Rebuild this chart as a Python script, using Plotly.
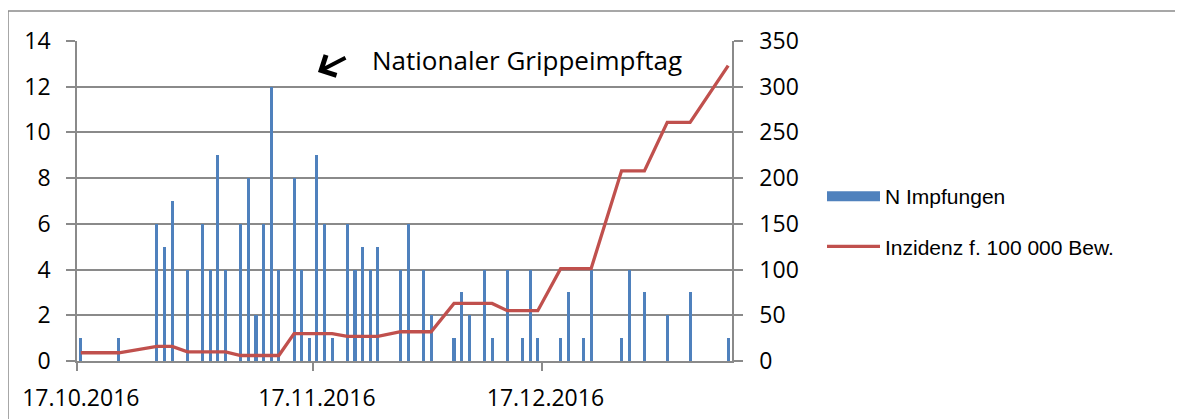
import plotly.graph_objects as go

# ---- data ----
dates = [
    "2016-10-17", "2016-10-22", "2016-10-27", "2016-10-28", "2016-10-29", "2016-10-31",
    "2016-11-02", "2016-11-03", "2016-11-04", "2016-11-05", "2016-11-07", "2016-11-08",
    "2016-11-09", "2016-11-10", "2016-11-11", "2016-11-12", "2016-11-14", "2016-11-15",
    "2016-11-16", "2016-11-17", "2016-11-18", "2016-11-19", "2016-11-21", "2016-11-22",
    "2016-11-23", "2016-11-24", "2016-11-25", "2016-11-28", "2016-11-29", "2016-12-01",
    "2016-12-02", "2016-12-05", "2016-12-06", "2016-12-07", "2016-12-09", "2016-12-10",
    "2016-12-12", "2016-12-14", "2016-12-15", "2016-12-16", "2016-12-19", "2016-12-20",
    "2016-12-22", "2016-12-23", "2016-12-27", "2016-12-28", "2016-12-30", "2017-01-02",
    "2017-01-05", "2017-01-10",
]
impfungen = [
    1, 1, 6, 5, 7, 4,
    6, 4, 9, 4, 6, 8,
    2, 6, 12, 4, 8, 4,
    1, 9, 6, 1, 6, 4,
    5, 4, 5, 4, 6, 4,
    2, 1, 3, 2, 4, 1,
    4, 1, 4, 1, 1, 3,
    1, 4, 1, 4, 3, 2,
    3, 1,
]
inzidenz = [
    9, 9, 16, 16, 16, 10,
    10, 10, 10, 10, 6, 6,
    6, 6, 6, 6, 30, 30,
    30, 30, 30, 30, 27, 27,
    27, 27, 27, 32, 32, 32,
    32, 63, 63, 63, 63, 63,
    55, 55, 55, 55, 101, 101,
    101, 101, 208, 208, 208, 261,
    261, 323,
]
tick_dates = ["2016-10-17", "2016-11-17", "2016-12-17"]
tick_text = ["17.10.2016", "17.11.2016", "17.12.2016"]
tick_bounds = ["2016-10-16 12:00", "2016-11-16 12:00", "2016-12-16 12:00"]
x_range = ["2016-10-16 12:00", "2017-01-10 12:00"]

name_bar = "N Impfungen"
name_line = "Inzidenz f. 100 000 Bew."
note = "Nationaler Grippeimpftag"

GRAY = "#8a8a8a"
BLUE = "#4f81bd"
RED = "#c0504d"
TICKFONT = dict(family="Open Sans", size=23, color="#000000")

fig = go.Figure()
fig.add_trace(go.Bar(
    x=dates, y=impfungen, name=name_bar,
    marker=dict(color=BLUE, line=dict(width=0)),
    width=0.4 * 86400000, showlegend=False,
))
# legend-only entry so the key shows a wide blue block like the original
fig.add_trace(go.Scatter(
    x=[None], y=[None], name=name_bar, mode="lines",
    line=dict(color=BLUE, width=15), legendgroup="a",
))
fig.add_trace(go.Scatter(
    x=dates, y=inzidenz, name=name_line, yaxis="y2", mode="lines",
    line=dict(color=RED, width=3.3), legendgroup="b",
))

# page body has an 8px margin; the figure is placed so the plot lines up with the original
OFF = 8
W, H = 1183 - OFF, 419 - OFF
L, R, T, B = 77 - OFF, 451, 41 - OFF, 58
pw, ph = W - L - R, H - T - B


def px(xp):
    return (xp - OFF - L) / pw


def py(yp):
    return (H - B - (yp - OFF)) / ph


fig.update_layout(
    width=W, height=H,
    margin=dict(l=L, r=R, t=T, b=B, autoexpand=False),
    paper_bgcolor="white", plot_bgcolor="white",
    bargap=0,
    showlegend=True,
    legend=dict(
        x=px(822), y=py(176), xanchor="left", yanchor="top",
        font=dict(family="Liberation Sans", size=21, color="#000000"),
        itemwidth=53, tracegroupgap=20, traceorder="grouped",
        bgcolor="rgba(0,0,0,0)",
    ),
    xaxis=dict(
        type="date", range=x_range, automargin=False,
        tickmode="array", tickvals=tick_dates, ticktext=tick_text,
        ticks="outside", ticklen=8, tickcolor="rgba(0,0,0,0)",
        tickfont=TICKFONT, ticklabelstandoff=8,
        showgrid=False, zeroline=False,
        showline=True, linecolor=GRAY, linewidth=1.5,
        minor=dict(tickmode="array", tickvals=tick_bounds, ticks="outside",
                   ticklen=8, tickcolor=GRAY, tickwidth=1.5, showgrid=False),
    ),
    yaxis=dict(
        range=[0, 14], dtick=2, tick0=0, automargin=False,
        ticks="outside", ticklen=9, tickcolor=GRAY, tickwidth=1.5,
        tickfont=TICKFONT, ticklabelstandoff=11,
        showgrid=True, gridcolor=GRAY, gridwidth=1.5,
        zeroline=False, showline=True, linecolor=GRAY, linewidth=1.5,
    ),
    yaxis2=dict(
        range=[0, 350], dtick=50, tick0=0, overlaying="y", side="right",
        automargin=False,
        ticks="outside", ticklen=9, tickcolor=GRAY, tickwidth=1.5,
        tickfont=TICKFONT, ticklabelstandoff=12,
        showgrid=False, zeroline=False, showline=True, linecolor=GRAY, linewidth=1.5,
    ),
    shapes=[dict(
        type="rect", xref="paper", yref="paper",
        x0=px(8), x1=px(1183 + 20), y0=py(419 + 20), y1=py(11),
        line=dict(color=GRAY, width=1.5), fillcolor="rgba(0,0,0,0)", layer="below",
    )],
    annotations=[
        dict(xref="paper", yref="paper", x=px(370), y=py(60), xanchor="left", yanchor="middle",
             text=note, showarrow=False,
             font=dict(family="Open Sans", size=26, color="#000000")),
        dict(xref="paper", yref="paper", x=px(318), y=py(72), text="",
             showarrow=True, axref="pixel", ayref="pixel", ax=29, ay=-15,
             arrowhead=4, arrowsize=1.1, arrowwidth=4, arrowcolor="#000000", standoff=0),
    ],
)

fig.write_html("out.html")
